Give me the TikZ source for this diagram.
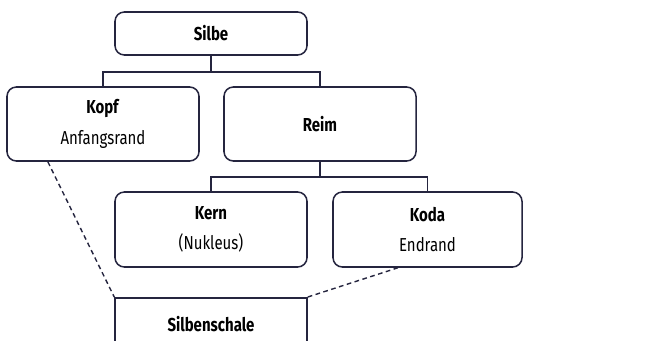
\documentclass[tikz,border=0pt]{standalone}
\usepackage{fontspec}
\setmainfont{Fira Sans}[FakeStretch=0.8]
\usepackage{tikz}
\usetikzlibrary{positioning,calc}
\definecolor{inkblue}{HTML}{25253F}
\tikzset{
  unit/.style={draw=inkblue, line width=1.3pt, rounded corners=8pt, minimum width=5.76cm,
    align=center, text=black, font=\fontsize{16}{18}\selectfont},
  shell/.style={draw=inkblue, line width=1.3pt, minimum width=5.76cm, minimum height=1.59cm,
    anchor=north, font=\fontsize{16}{18}\selectfont\bfseries},
  link/.style={draw=inkblue, line width=1.3pt},
  guide/.style={draw=inkblue, line width=1.2pt, dash pattern=on 4pt off 3pt}
}

\begin{document}
\begin{tikzpicture}[x=0.03cm, y=-0.03cm]
    \clip (0,0) rectangle (654,340);
    \useasboundingbox (0,0) rectangle (654,340);
    \node[unit, minimum height=1.29cm] (silbe) at (211,33.5) {\textbf{Silbe}};
    \node[unit, minimum height=2.22cm] (kopf) at (103,124) {\textbf{Kopf}\\[8pt]Anfangsrand};
    \node[unit, minimum height=2.22cm] (reim) at (320,124) {\textbf{Reim}};
    \node[unit, minimum height=2.25cm] (kern) at (211,229.5) {\textbf{Kern}\\[8pt](Nukleus)};
    \node[unit, minimum height=2.25cm, minimum width=5.67cm] (koda) at (427.5,229.5) {\textbf{Koda}\\[8pt]Endrand};
    \node[shell] (schale) at (211,297) {Silbenschale};
    % tree lines
    \draw[link] (silbe.south) -- ++(0,16) coordinate (fork1) -| (kopf.north);
    \draw[link] (fork1) -| (reim.north);
    \draw[link] (reim.south) -- ++(0,15) coordinate (fork2) -| (kern.north);
    \draw[link] (fork2) -| (koda.north);
    % the shell
    \draw[guide] ($(kopf.south west)!0.215!(kopf.south east)$) -- (schale.north west);
    \draw[guide] (schale.north east) -- ($(koda.south west)!0.345!(koda.south east)$);
\end{tikzpicture}
\end{document}
